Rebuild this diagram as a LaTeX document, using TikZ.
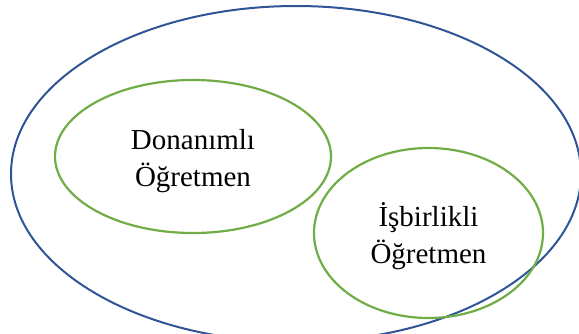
\documentclass[tikz,border=0pt]{standalone}
\usepackage{fontspec}
\setmainfont{Liberation Serif}
\usetikzlibrary{shapes.geometric}
\definecolor{outerblue}{HTML}{2F5597}
\definecolor{innergreen}{HTML}{70AD47}
\begin{document}
\begin{tikzpicture}[x=1pt,y=-1pt,
  outerell/.style={draw=outerblue,line width=2pt,ellipse,inner sep=0pt},
  innerell/.style={draw=innergreen,line width=2.2pt,ellipse,inner sep=0pt},
  lbl/.style={anchor=base,inner sep=0pt,font=\fontsize{29}{37}\selectfont}]
\useasboundingbox (0,0) rectangle (579,333);
\node[outerell,minimum width=570pt,minimum height=336pt] (outer) at (296,174) {};
\node[innerell,minimum width=276pt,minimum height=153pt] (don) at (193,156.5) {};
\node[innerell,minimum width=229pt,minimum height=170pt] (isb) at (428.5,233) {};
\node[lbl] (d1) at (193,149.5) {Donanımlı};
\node[lbl] (d2) at (193,186.5) {Öğretmen};
\node[lbl] (i1) at (428.5,226) {İşbirlikli};
\node[lbl] (i2) at (428.5,263) {Öğretmen};
\end{tikzpicture}
\end{document}
